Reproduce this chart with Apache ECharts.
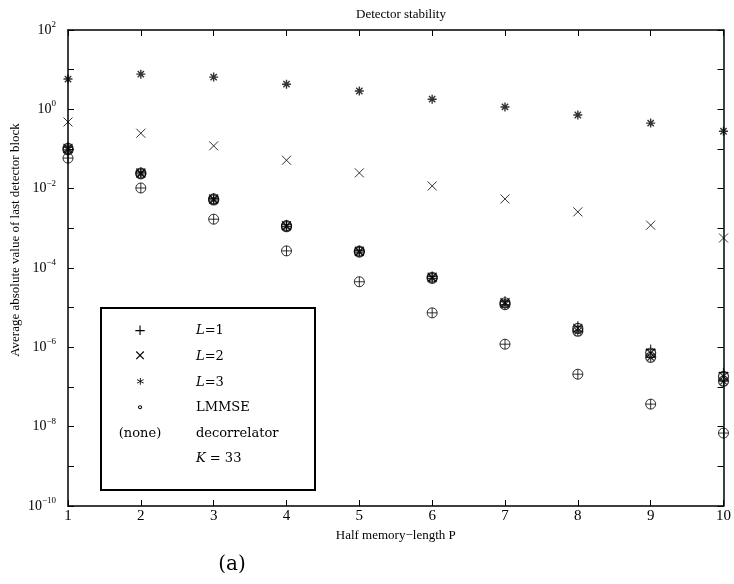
<!DOCTYPE html>
<html>
<head>
<meta charset="utf-8">
<script src="https://cdn.jsdelivr.net/npm/echarts@6/dist/echarts.min.js"></script>
<style>
  html, body { margin: 0; padding: 0; background: #fff; }
  #chart { width: 734px; height: 584px; }
</style>
</head>
<body>
<div id="chart"></div>
<script>
// half memory-length P
const halfMemory = [1, 2, 3, 4, 5, 6, 7, 8, 9, 10]

// decorrelator
const decorL1 = [0.112, 0.026, 0.0057, 0.00123, 2.75e-4, 6.1e-5, 1.45e-5, 3.4e-6, 8.8e-7, 2.3e-7]
const decorL2 = [0.48, 0.25, 0.12, 0.052, 0.025, 0.0117, 0.0055, 0.0026, 0.0012, 5.7e-4]
const decorL3 = [5.8, 7.7, 6.5, 4.3, 2.9, 1.8, 1.15, 0.72, 0.45, 0.28]

// LMMSE
const lmmseL1 = [0.059, 0.0104, 0.0017, 2.7e-4, 4.5e-5, 7.4e-6, 1.2e-6, 2.1e-7, 3.7e-8, 6.9e-9]
const lmmseL2 = [0.104, 0.0248, 0.0055, 0.00117, 2.65e-4, 5.85e-5, 1.33e-5, 3.0e-6, 7.2e-7, 1.85e-7]
const lmmseL3 = [0.095, 0.0236, 0.0052, 0.0011, 2.52e-4, 5.5e-5, 1.2e-5, 2.55e-6, 5.6e-7, 1.4e-7]

// legend rows (symbol, label)
const legendSymbols = ['+', '\u00d7', '\u2217', '\u2218', '(none)', '']
const legendLabels = ['{i|L}{r|=1}', '{i|L}{r|=2}', '{i|L}{r|=3}', 'LMMSE', 'decorrelator', '{i|K}{r| = 33}']

const PLUS = 'path://M0,5L10,5M5,0L5,10'
const CROSS = 'path://M0,0L10,10M10,0L0,10'
const STAR = 'path://M0,5L10,5M5,0L5,10M1.5,1.5L8.5,8.5M8.5,1.5L1.5,8.5'
const RING = 'path://M10,5A5,5,0,1,1,0,5A5,5,0,1,1,10,5Z'

const serif = 'Liberation Serif'
const texFont = 'DejaVu Serif'

function pairs(vals) {
  return halfMemory.map((p, i) => [p, vals[i]])
}

function marks(name, vals, symbol, size, width) {
  return {
    name: name,
    type: 'scatter',
    data: pairs(vals),
    symbol: symbol,
    symbolSize: size,
    itemStyle: { color: 'transparent', borderColor: '#000', borderWidth: width || 1.2 },
    emphasis: { disabled: true },
    clip: false,
  }
}

function supLabel(v) {
  let e = Math.round(Math.log10(v))
  if (e % 2 !== 0) return ''
  let s = e < 0 ? '\u2212' + (-e) : '' + e
  return '{b|10}{s|' + s + '}'
}

const axisColor = '#000'

const yAxisBase = {
  type: 'log',
  logBase: 10,
  min: 1e-10,
  max: 1e2,
  interval: 1,
  axisLine: { show: true, lineStyle: { color: axisColor, width: 1.5 } },
  axisTick: { show: true, inside: true, length: 6, lineStyle: { color: axisColor } },
  minorTick: { show: false },
  splitLine: { show: false },
}

const xAxisBase = {
  type: 'value',
  min: 1,
  max: 10,
  interval: 1,
  axisLine: { show: true, lineStyle: { color: axisColor, width: 1.5 } },
  axisTick: { show: true, inside: true, length: 6, lineStyle: { color: axisColor } },
  splitLine: { show: false },
}

// legend box drawn by hand, like the MATLAB/latex one
const legendTop = 308
const legendRow = 25.6
let legendGraphics = [
  {
    type: 'rect',
    shape: { x: 101, y: legendTop, width: 214, height: 182 },
    style: { fill: '#fff', stroke: '#000', lineWidth: 2 },
  },
]
legendSymbols.forEach((sym, i) => {
  let cy = legendTop + 23 + i * legendRow
  legendGraphics.push({
    type: 'text',
    x: 140,
    y: cy,
    style: {
      text: sym,
      fill: '#000',
      font: (i < 4 ? '15px ' : '13px ') + texFont,
      textAlign: 'center',
      textVerticalAlign: 'middle',
    },
  })
  legendGraphics.push({
    type: 'text',
    x: 196,
    y: cy,
    style: {
      text: legendLabels[i],
      fill: '#000',
      font: '13px ' + texFont,
      textAlign: 'left',
      textVerticalAlign: 'middle',
      rich: {
        i: { fontFamily: texFont, fontStyle: 'italic', fontSize: 13, color: '#000' },
        r: { fontFamily: texFont, fontSize: 13, color: '#000' },
      },
    },
  })
})

const option = {
  animation: false,
  backgroundColor: '#fff',
  title: {
    text: 'Detector stability',
    left: 396,
    top: 3,
    textAlign: 'center',
    textStyle: { fontFamily: serif, fontSize: 13, fontWeight: 'normal', color: '#000' },
  },
  grid: { left: 68, right: 9, top: 30, bottom: 78 },
  xAxis: [
    Object.assign({}, xAxisBase, {
      position: 'bottom',
      axisLabel: { color: '#000', fontFamily: serif, fontSize: 15, margin: 3 },
      name: 'Half memory\u2212length P',
      nameLocation: 'middle',
      nameGap: 23,
      nameTextStyle: { fontFamily: serif, fontSize: 13, color: '#000' },
    }),
    Object.assign({}, xAxisBase, {
      position: 'top',
      axisLabel: { show: false },
    }),
  ],
  yAxis: [
    Object.assign({}, yAxisBase, {
      position: 'left',
      axisLabel: {
        color: '#000',
        margin: 12,
        formatter: supLabel,
        rich: {
          b: { fontFamily: serif, fontSize: 14, lineHeight: 20, color: '#000' },
          s: { fontFamily: serif, fontSize: 9, lineHeight: 9, verticalAlign: 'top', color: '#000' },
        },
      },
    }),
    Object.assign({}, yAxisBase, {
      position: 'right',
      axisLabel: { show: false },
    }),
  ],
  series: [
    marks('L=3 decorrelator', decorL3, STAR, 9, 1.4),
    marks('L=2 decorrelator', decorL2, CROSS, 9, 1),
    marks('L=1 LMMSE ring', lmmseL1, RING, 10, 1),
    marks('L=1 LMMSE', lmmseL1, PLUS, 10, 1),
    marks('L=1 decorrelator', decorL1, PLUS, 10),
    marks('L=2 LMMSE ring', lmmseL2, RING, 10),
    marks('L=2 LMMSE', lmmseL2, CROSS, 9),
    marks('L=3 LMMSE ring', lmmseL3, RING, 10),
    marks('L=3 LMMSE', lmmseL3, STAR, 9),
  ],
  graphic: legendGraphics.concat([
    {
      type: 'text',
      x: 16,
      y: 240,
      rotation: Math.PI / 2,
      style: {
        text: 'Average absolute value of last detector block',
        fill: '#000',
        font: '13px ' + serif,
        textAlign: 'center',
        textVerticalAlign: 'middle',
      },
    },
    {
      type: 'text',
      x: 232,
      y: 565,
      style: {
        text: '(a)',
        fill: '#000',
        font: '20px ' + texFont,
        textAlign: 'center',
        textVerticalAlign: 'middle',
      },
    },
  ]),
}

const chart = echarts.init(document.getElementById('chart'))
chart.setOption(option)
</script>
</body>
</html>
